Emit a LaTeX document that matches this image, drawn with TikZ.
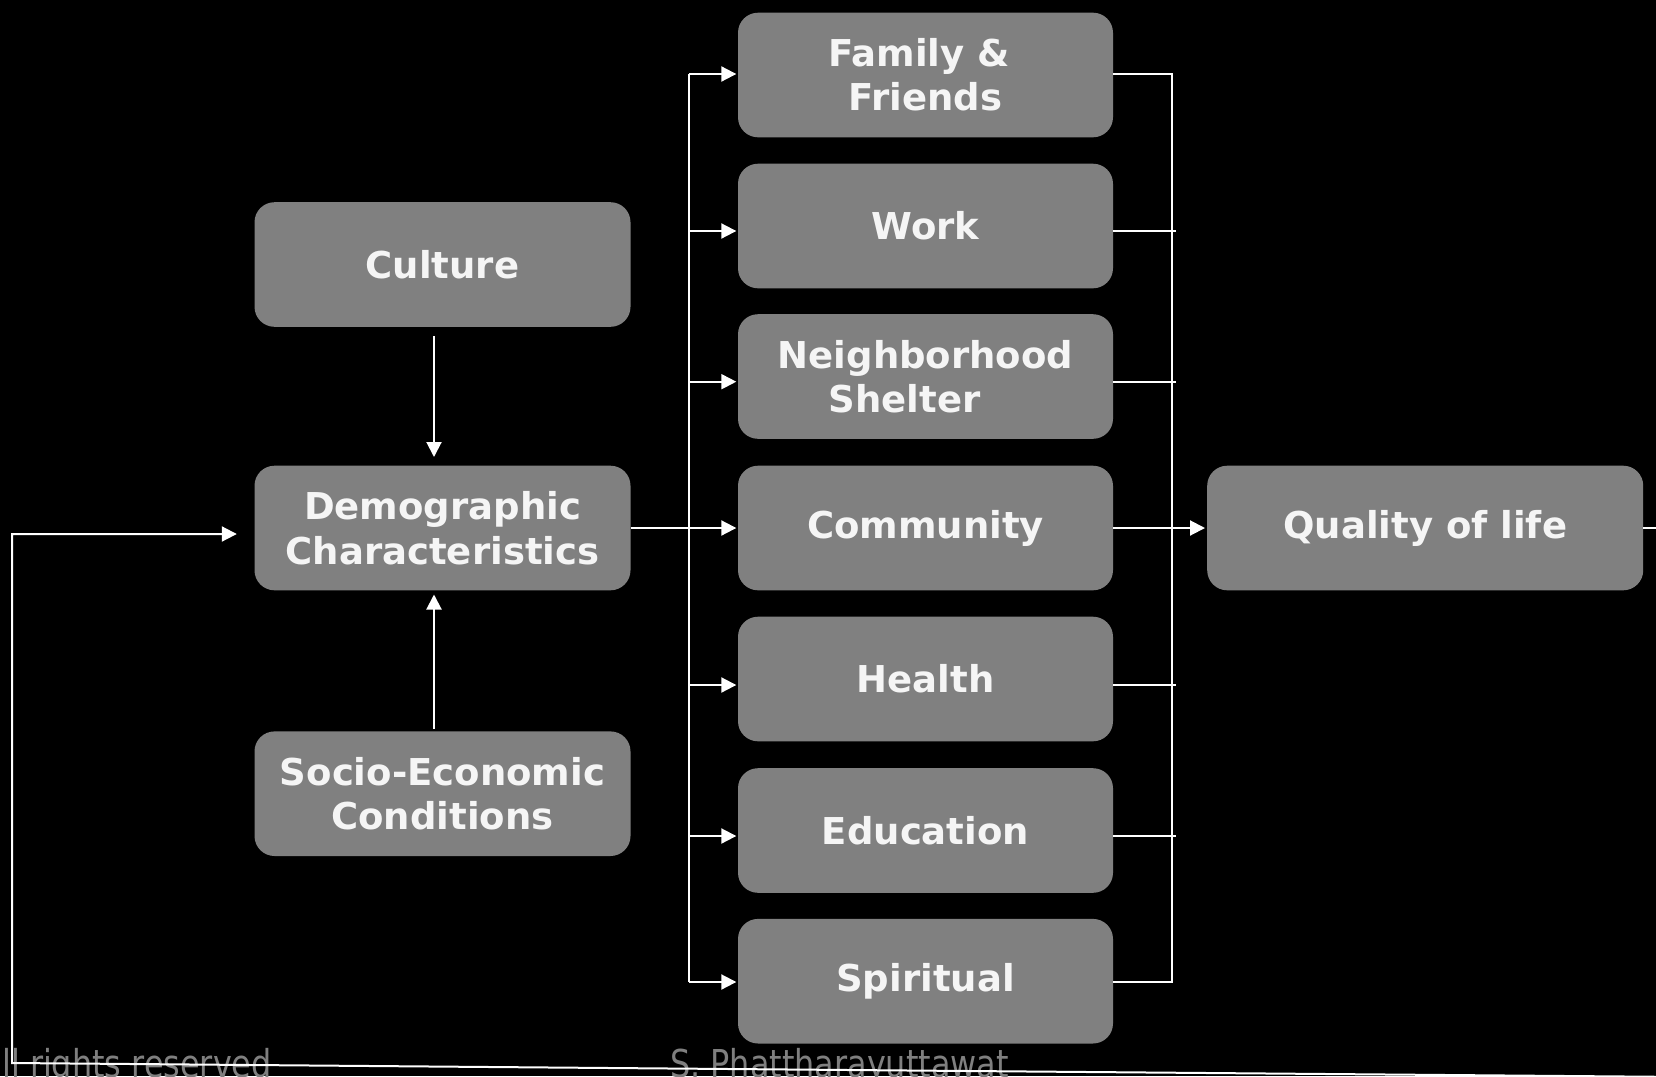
\documentclass[tikz,border=0pt]{standalone}
\usepackage{fontspec}
\setmainfont{DejaVu Sans}
\newfontfamily\footfont[FakeStretch=0.83]{DejaVu Sans}
\usetikzlibrary{arrows.meta}
\definecolor{boxgray}{HTML}{808080}
\definecolor{boxtext}{HTML}{F5F5F5}
\definecolor{footgray}{HTML}{7F7F7F}
\begin{document}
\begin{tikzpicture}[x=1pt,y=-1pt,
  stepbox/.style={fill=boxgray, rounded corners=20pt, minimum width=375pt,
    minimum height=124.6pt, align=center, text=boxtext, inner sep=0pt,
    font=\fontsize{37}{44.4}\selectfont\bfseries},
  link/.style={draw=white, line width=2pt},
  buslink/.style={draw=white, line width=1.8pt},
  arr/.style={link, -{Triangle[length=15pt,width=15pt]}},
  foottext/.style={anchor=base west, inner sep=0pt, text=footgray,
    font=\footfont\fontsize{38.4}{40}\selectfont}]
\useasboundingbox (0,0) rectangle (1656,1076);
\fill[black] (0,0) rectangle (1656,1076);
\clip (0,0) rectangle (1656,1076);

% middle column
\node[stepbox] (fam) at (925.5,75) {Family \&\hspace*{0.35em}\\Friends};
\node[stepbox] (work) at (925.5,226) {Work};
\node[stepbox] (nbh) at (925.5,376.5) {Neighborhood\\Shelter\hspace*{1.13em}};
\node[stepbox] (comm) at (925.5,528) {Community};
\node[stepbox] (health) at (925.5,679) {Health};
\node[stepbox] (edu) at (925.5,830.5) {Education};
\node[stepbox] (spir) at (925.5,981.2) {Spiritual};

% left column
\node[stepbox, minimum width=376pt] (cult) at (442.5,264.5) {Culture};
\node[stepbox, minimum width=376pt] (demo) at (442.5,528) {Demographic\\Characteristics};
\node[stepbox, minimum width=376pt] (socio) at (442.5,793.7) {Socio-Economic\\Conditions};

% right
\node[stepbox, minimum width=436pt] (qol) at (1425.2,528) {Quality of life};

% footer texts
\node[foottext] (rights) at (2,1077) {ll rights reserved};
\node[foottext] (author) at (670,1077) {S. Phattharayuttawat};

% vertical arrows into Demographic
\coordinate (vx) at (434,0);
\draw[arr, shorten <=9pt, shorten >=8.5pt] (vx |- cult.south) -- (vx |- demo.north);
\draw[arr, shorten <=2pt, shorten >=4pt] (vx |- socio.north) -- (vx |- demo.south);

% trunk to middle column
\coordinate (b1) at (689,74);
\coordinate (b2) at (689,231);
\coordinate (b3) at (689,381.7);
\coordinate (b5) at (689,685);
\coordinate (b6) at (689,836);
\coordinate (b7) at (689,982);
\draw[link] (b1) -- (b7);
\draw[arr, shorten >=1.5pt] (demo.east) -- (comm.west);
\draw[arr, shorten >=1.5pt] (b1) -- (b1 -| fam.west);
\draw[arr, shorten >=1.5pt] (b2) -- (b2 -| work.west);
\draw[arr, shorten >=1.5pt] (b3) -- (b3 -| nbh.west);
\draw[arr, shorten >=1.5pt] (b5) -- (b5 -| health.west);
\draw[arr, shorten >=1.5pt] (b6) -- (b6 -| edu.west);
\draw[arr, shorten >=1.5pt] (b7) -- (b7 -| spir.west);

% right bus
\coordinate (r1) at (1172.3,74);
\coordinate (r2) at (1172.3,231);
\coordinate (r3) at (1172.3,381.7);
\coordinate (r5) at (1172.3,685);
\coordinate (r6) at (1172.3,836);
\coordinate (r7) at (1172.3,982);
\draw[buslink] (r1 -| fam.east) -- (r1) -- (r7) -- (r7 -| spir.east);
\draw[buslink] (r2 -| work.east) -- ([xshift=4pt]r2);
\draw[buslink] (r3 -| nbh.east) -- ([xshift=4pt]r3);
\draw[buslink] (r5 -| health.east) -- ([xshift=4pt]r5);
\draw[buslink] (r6 -| edu.east) -- ([xshift=4pt]r6);
\draw[arr, shorten >=2pt] (comm.east) -- (qol.west);

% feedback loop
\coordinate (qe) at (1662,528);
\draw[link] (qol.east) -- (qe);
\coordinate (f1) at (1662,1076.8);
\coordinate (f2) at (12,1063);
\coordinate (f3) at (12,534);
\draw[arr, shorten >=17.5pt] (f1) -- (f2) -- (f3) -- (f3 -| demo.west);
\end{tikzpicture}
\end{document}
